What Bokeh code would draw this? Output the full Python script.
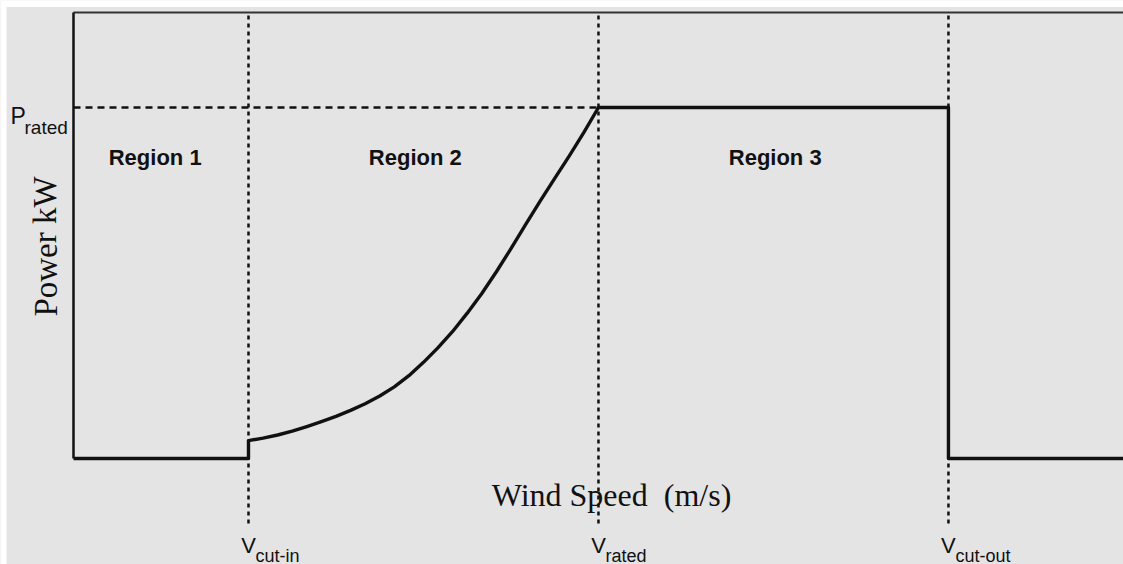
from bokeh.plotting import figure
from bokeh.models import ColumnDataSource
from bokeh.core.properties import value
from bokeh.embed import file_html
from bokeh.resources import INLINE

# ---- data (wind speed in m/s, power as fraction of rated power) ----
v_cut_in = 3.0
v_rated = 9.0
v_cut_out = 15.0
v_max = 18.0
p_rated = 1.0
p_top = 1.2707

region2_speed = [3.0, 3.25, 3.5, 3.75, 4.0, 4.25, 4.5, 4.75, 5.0, 5.25, 5.5, 5.75,
                 6.0, 6.25, 6.5, 6.75, 7.0, 7.25, 7.5, 7.75, 8.0, 8.25, 8.5, 8.75, 9.0]
region2_power = [0.051, 0.058, 0.067, 0.078, 0.091, 0.105, 0.120, 0.137, 0.156, 0.178,
                 0.204, 0.236, 0.274, 0.316, 0.362, 0.414, 0.470, 0.532, 0.598, 0.666,
                 0.733, 0.798, 0.862, 0.929, 1.0]

region_names = ["Region 1", "Region 2", "Region 3"]
speed_labels = ["cut-in", "rated", "cut-out"]
speed_values = [v_cut_in, v_rated, v_cut_out]

# ---- layout helpers (page pixels -> data units) ----
W, H = 1123, 564
XS = 58.33   # px per m/s
YS = 351.0   # px per unit power
X0, Y0 = 73, 458  # page px of origin


def px2x(px):
    return (px - X0) / XS


def px2y(py):
    return (Y0 - py) / YS


x_start, x_end = px2x(0), px2x(W)
y_end, y_start = px2y(0), px2y(H)

BG = "#e4e4e4"
INK = "#111111"

p = figure(width=W, height=H, x_range=(x_start, x_end), y_range=(y_start, y_end),
           output_backend="svg", toolbar_location=None,
           x_axis_location=None, y_axis_location=None,
           min_border=0, min_border_left=0, min_border_right=0,
           min_border_top=0, min_border_bottom=0)
p.background_fill_color = BG
p.border_fill_color = BG
p.outline_line_color = None
p.grid.visible = False

# white strip at the top/left like the scanned reference
p.line([x_start, x_end], [px2y(3), px2y(3)], line_color="white", line_width=7)
p.line([px2x(3), px2x(3)], [y_start, y_end], line_color="white", line_width=6)

# frame lines: top and left
p.line([0, x_end], [p_top, p_top], line_color="#333333", line_width=2)
p.line([0, 0], [0, p_top], line_color=INK, line_width=2.5)

# dotted vertical guides
y_guide_bottom = px2y(523)
for v in speed_values:
    p.line([v, v], [y_guide_bottom, p_top], line_color=INK, line_width=2.5,
           line_dash="4 4")

# dashed horizontal at rated power
p.line([0, v_rated], [p_rated, p_rated], line_color=INK, line_width=2.5,
       line_dash="7 5")

# power curve
curve_x = [0.0, v_cut_in] + region2_speed + [v_cut_out, v_cut_out, x_end]
curve_y = [0.0, 0.0] + region2_power + [p_rated, 0.0, 0.0]
src = ColumnDataSource(dict(x=curve_x, y=curve_y))
p.line("x", "y", source=src, line_color=INK, line_width=3.4, line_join="round")

# region labels
region_x = [(0 + v_cut_in) / 2 - 0.1, (v_cut_in + v_rated) / 2 - 0.14, (v_rated + v_cut_out) / 2 + 0.03]
p.text(x=region_x, y=[px2y(157)] * 3, text=region_names,
       text_font=value("Liberation Sans"), text_font_style="bold",
       text_font_size="22px", text_align="center", text_baseline="middle",
       text_color=INK)

# axis titles
p.text(x=[px2x(45)], y=[px2y(246)], text=["Power kW"], angle=1.5708,
       text_font=value("Liberation Serif"), text_font_size="33px",
       text_align="center", text_baseline="middle", text_color=INK)
p.text(x=[px2x(611)], y=[px2y(494)], text=["Wind Speed\u00a0\u00a0(m/s)"],
       text_font=value("Liberation Serif"), text_font_size="32px",
       text_align="center", text_baseline="middle", text_color=INK)

# P_rated label
p.text(x=[px2x(10)], y=[px2y(115)], text=["P"],
       text_font=value("Liberation Sans"), text_font_size="23px",
       text_align="left", text_baseline="alphabetic", text_color=INK)
p.text(x=[px2x(24)], y=[px2y(127)], text=["rated"],
       text_font=value("Liberation Sans Narrow, Liberation Sans"), text_font_size="19px",
       text_align="left", text_baseline="alphabetic", text_color=INK)

# V labels under the guides
p.text(x=speed_values, y=[px2y(545)] * 3, text=["V"] * 3,
       text_font=value("Liberation Sans"), text_font_size="22px",
       text_align="center", text_baseline="alphabetic", text_color=INK)
p.text(x=[v + 7 / XS for v in speed_values], y=[px2y(555)] * 3, text=speed_labels,
       text_font=value("Liberation Sans Narrow, Liberation Sans"), text_font_size="18px",
       text_align="left", text_baseline="alphabetic", text_color=INK)

open("out.html", "w").write(file_html(p, INLINE))
